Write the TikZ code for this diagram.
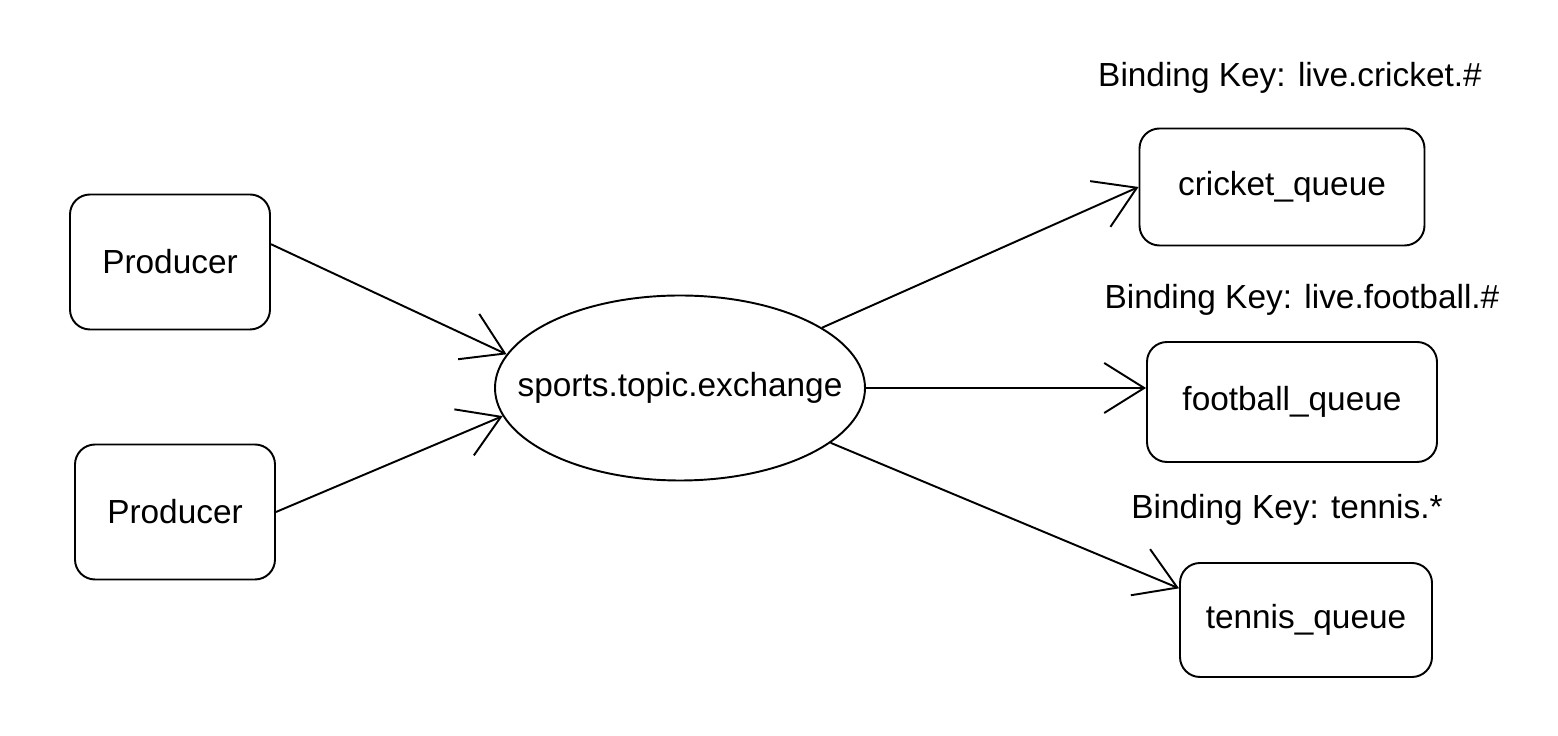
\documentclass[tikz,border=0pt]{standalone}
\usepackage{fontspec}
\setmainfont{Liberation Sans}
\usetikzlibrary{arrows.meta,shapes.geometric}
\begin{document}
\begin{tikzpicture}[line width=1.1pt,
    box node/.style={draw,rounded corners=0.4cm,font=\fontsize{19}{23}\selectfont},
    main node/.style={ellipse,draw,inner sep=0pt,font=\fontsize{19}{23}\selectfont},
    key label/.style={font=\fontsize{19}{23}\selectfont},
    every edge/.style={draw,-{Straight Barb[length=0.8cm,width=1.0cm]}}]

                \useasboundingbox (0,0) rectangle (31.16,14.72);

                \node[box node,minimum width=4cm,minimum height=2.7cm] at (3.4,9.48) (producerA) {Producer};
                \node[box node,minimum width=4cm,minimum height=2.7cm] at (3.5,4.48) (producerB) {Producer};
                \node[main node,minimum width=7.4cm,minimum height=3.7cm] at (13.6,6.96) (exchange) {\makebox[4.6cm][c]{sports.topic.exchange}};

                \node[box node,minimum width=5.7cm,minimum height=2.34cm] at (25.64,10.98) (cricket) {cricket\_queue};
                \node[box node,minimum width=5.8cm,minimum height=2.4cm] at (25.84,6.68) (football) {football\_queue};
                \node[box node,minimum width=5.04cm,minimum height=2.28cm] at (26.12,2.32) (tennis) {tennis\_queue};

                \node[key label] at (25.8,13.16) (cricketkey) {Binding Key: live.cricket.\#};
                \node[key label] at (26.04,8.72) (footballkey) {Binding Key: live.football.\#};
                \node[key label] at (25.74,4.52) (tenniskey) {Binding Key: tennis.*};

                \path (producerA.10) edge[] node {} (exchange.169);
                \path (producerB.east) edge[] node {} (exchange.189);
                \path (exchange.23) edge[] node {} (cricket.west);
                \path (exchange.east) edge[] node {} (exchange.east -| football.west);
                \path (exchange.-20) edge[] node {} (tennis.166);
            \end{tikzpicture}
\end{document}
